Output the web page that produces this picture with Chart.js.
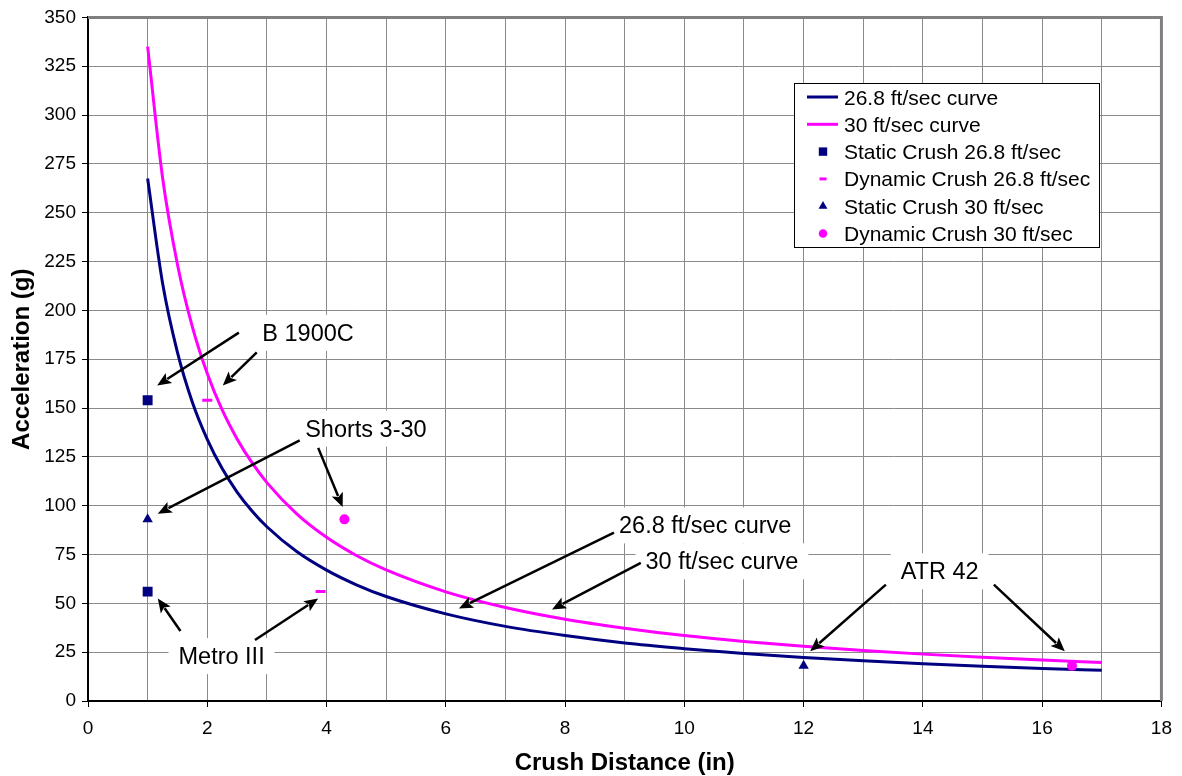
<!DOCTYPE html>
<html>
<head>
<meta charset="utf-8">
<title>Crush Distance vs Acceleration</title>
<script src="https://cdn.jsdelivr.net/npm/chart.js@4.4.0/dist/chart.umd.min.js"></script>
<style>
    html, body { margin: 0; padding: 0; background: #fff; }
    #wrap { width: 1182px; height: 776px; }
</style>
</head>
<body>
<div id="wrap"><canvas id="crushChart" width="1182" height="776"></canvas></div>
<script>
// curve values
var distance = [1, 1.25, 1.5, 1.75, 2, 2.25, 2.5, 2.75, 3, 3.5, 4, 4.5, 5, 6, 7, 8, 9, 10, 11, 12, 13, 14, 15, 16, 17];
var curve268 = [267.5, 214, 178.5, 153, 134, 119, 107, 97.3, 89.2, 76.5, 67, 59.5, 53.5, 44.6, 38.2, 33.5, 29.7, 26.8, 24.3, 22.3, 20.6, 19.1, 17.8, 16.7, 15.7];
var curve30 = [335, 268, 223.5, 191.6, 167.7, 149, 134.2, 122, 111.8, 95.8, 83.8, 74.5, 67.1, 55.9, 47.9, 41.9, 37.3, 33.5, 30.5, 28, 25.8, 24, 22.4, 21, 19.7];

// measured crush points
var staticX268 = [1, 1];
var staticY268 = [154, 56];
var dynamicX268 = [2, 3.9];
var dynamicY268 = [154, 56];
var staticX30 = [1, 12];
var staticY30 = [93, 18];
var dynamicX30 = [4.3, 16.5];
var dynamicY30 = [93, 18];

var xTicks = [0, 2, 4, 6, 8, 10, 12, 14, 16, 18];
var yTicks = [0, 25, 50, 75, 100, 125, 150, 175, 200, 225, 250, 275, 300, 325, 350];

// callout boxes, given in data units (text centre, then arrows from -> to)
var callouts = [
    { text: "B 1900C", at: [3.69, 188.5], arrows: [[2.53, 188.6, 1.16, 161.5], [2.83, 178.5, 2.26, 161.5]] },
    { text: "Shorts 3-30", at: [4.66, 139.5], arrows: [[3.55, 133.4, 1.17, 95.9], [3.86, 129.6, 4.27, 99.3]] },
    { text: "26.8 ft/sec curve", at: [10.35, 89.9], arrows: [[8.82, 86.2, 6.22, 47.4]] },
    { text: "30 ft/sec curve", at: [10.63, 71.5], arrows: [[9.27, 70.7, 7.78, 46.9]] },
    { text: "Metro III", at: [2.24, 23], arrows: [[1.55, 35.8, 1.17, 52.5], [2.80, 31.2, 3.86, 52.5]] },
    { text: "ATR 42", at: [14.28, 66.4], arrows: [[13.38, 59.6, 12.11, 25.5], [15.19, 59.6, 16.38, 25.5]] }
];

var fontFamily = "'Liberation Sans', Arial, sans-serif";
var navy = '#000080';
var magenta = '#ff00ff';

function pairs(xs, ys) {
    return xs.map(function (x, i) { return { x: x, y: ys[i] }; });
}

function drawArrow(ctx, x1, y1, x2, y2) {
    var ang = Math.atan2(y2 - y1, x2 - x1);
    var len = 14, half = 6;
    var bx = x2 - Math.cos(ang) * len, by = y2 - Math.sin(ang) * len;
    ctx.beginPath();
    ctx.moveTo(x1, y1);
    ctx.lineTo(bx + Math.cos(ang) * 2, by + Math.sin(ang) * 2);
    ctx.stroke();
    ctx.beginPath();
    ctx.moveTo(x2, y2);
    ctx.lineTo(bx - Math.sin(ang) * half, by + Math.cos(ang) * half);
    ctx.lineTo(bx + Math.cos(ang) * 3, by + Math.sin(ang) * 3);
    ctx.lineTo(bx + Math.sin(ang) * half, by - Math.cos(ang) * half);
    ctx.closePath();
    ctx.fill();
}

var plotFrame = {
    id: 'plotFrame',
    beforeDatasetsDraw: function (chart) {
        var a = chart.chartArea, ctx = chart.ctx;
        ctx.save();
        ctx.strokeStyle = '#808080';
        ctx.lineWidth = 3;
        ctx.beginPath();
        ctx.moveTo(a.left, a.top);
        ctx.lineTo(a.right, a.top);
        ctx.lineTo(a.right, a.bottom);
        ctx.stroke();
        ctx.restore();
    }
};

var calloutPlugin = {
    id: 'calloutPlugin',
    afterDatasetsDraw: function (chart) {
        var ctx = chart.ctx, xs = chart.scales.x, ys = chart.scales.y;
        var fs = 23.5;
        ctx.save();
        ctx.font = fs + 'px ' + fontFamily;
        callouts.forEach(function (c) {
            var cx = xs.getPixelForValue(c.at[0]);
            var cy = ys.getPixelForValue(c.at[1]);
            var w = ctx.measureText(c.text).width;
            ctx.fillStyle = '#fff';
            ctx.fillRect(cx - w / 2 - 10, cy - 18, w + 20, 36);
            ctx.fillStyle = '#000';
            ctx.textAlign = 'center';
            ctx.textBaseline = 'alphabetic';
            ctx.fillText(c.text, cx, cy + fs * 0.34);
        });
        ctx.strokeStyle = '#000';
        ctx.fillStyle = '#000';
        ctx.lineWidth = 2.5;
        callouts.forEach(function (c) {
            c.arrows.forEach(function (a) {
                drawArrow(ctx, xs.getPixelForValue(a[0]), ys.getPixelForValue(a[1]),
                    xs.getPixelForValue(a[2]), ys.getPixelForValue(a[3]));
            });
        });
        ctx.restore();
    }
};

var boxLegend = {
    id: 'boxLegend',
    afterDraw: function (chart) {
        var ctx = chart.ctx;
        var lx = 794.5, ly = 83.5, lw = 305, lh = 164;
        ctx.save();
        ctx.fillStyle = '#fff';
        ctx.fillRect(lx, ly, lw, lh);
        ctx.strokeStyle = '#000';
        ctx.lineWidth = 1;
        ctx.strokeRect(lx, ly, lw, lh);
        ctx.font = '21px ' + fontFamily;
        ctx.textBaseline = 'alphabetic';
        ctx.textAlign = 'left';
        chart.data.datasets.forEach(function (ds, i) {
            var cy = 97 + i * 27.3;
            ctx.strokeStyle = ds.borderColor;
            ctx.fillStyle = ds.backgroundColor || ds.borderColor;
            if (ds.showLine) {
                ctx.lineWidth = 3;
                ctx.beginPath();
                ctx.moveTo(807, cy);
                ctx.lineTo(838, cy);
                ctx.stroke();
            } else {
                ctx.lineWidth = ds.borderWidth;
                Chart.helpers.drawPoint(ctx, {
                    pointStyle: ds.pointStyle,
                    radius: ds.pointStyle === 'line' ? 3.5 : ds.pointRadius * 0.85,
                    borderWidth: ds.borderWidth,
                    rotation: 0
                }, 823, cy);
            }
            ctx.fillStyle = '#000';
            ctx.fillText(ds.label, 844, cy + 7.5);
        });
        ctx.restore();
    }
};

Chart.defaults.font.family = fontFamily;
Chart.defaults.color = '#000';

var crushChart = new Chart(document.getElementById('crushChart'), {
    type: 'scatter',
    data: {
        datasets: [
            {
                label: '26.8 ft/sec curve',
                data: pairs(distance, curve268),
                showLine: true,
                borderColor: navy,
                borderWidth: 3,
                pointRadius: 0,
                cubicInterpolationMode: 'monotone',
                order: 3
            },
            {
                label: '30 ft/sec curve',
                data: pairs(distance, curve30),
                showLine: true,
                borderColor: magenta,
                borderWidth: 3,
                pointRadius: 0,
                cubicInterpolationMode: 'monotone',
                order: 2
            },
            {
                label: 'Static Crush 26.8 ft/sec',
                data: pairs(staticX268, staticY268),
                pointStyle: 'rect',
                pointRadius: 7,
                backgroundColor: navy,
                borderColor: navy,
                borderWidth: 0,
                order: 1
            },
            {
                label: 'Dynamic Crush 26.8 ft/sec',
                data: pairs(dynamicX268, dynamicY268),
                pointStyle: 'line',
                pointRadius: 5,
                backgroundColor: magenta,
                borderColor: magenta,
                borderWidth: 3,
                order: 1
            },
            {
                label: 'Static Crush 30 ft/sec',
                data: pairs(staticX30, staticY30),
                pointStyle: 'triangle',
                pointRadius: 6,
                backgroundColor: navy,
                borderColor: navy,
                borderWidth: 0,
                order: 1
            },
            {
                label: 'Dynamic Crush 30 ft/sec',
                data: pairs(dynamicX30, dynamicY30),
                pointStyle: 'circle',
                pointRadius: 5,
                backgroundColor: magenta,
                borderColor: magenta,
                borderWidth: 0,
                order: 1
            }
        ]
    },
    options: {
        responsive: false,
        animation: false,
        layout: { padding: { top: 16, right: 18, left: 0, bottom: 0 } },
        plugins: {
            legend: { display: false },
            tooltip: { enabled: false }
        },
        scales: {
            x: {
                type: 'linear',
                min: 0,
                max: 18,
                afterFit: function (s) { s.height = 75; },
                afterBuildTicks: function (s) {
                    var t = [];
                    for (var v = s.min; v <= s.max; v++) t.push({ value: v });
                    s.ticks = t;
                },
                ticks: {
                    autoSkip: false,
                    maxRotation: 0,
                    padding: 10,
                    font: { size: 19 },
                    callback: function (v) { return xTicks.indexOf(v) >= 0 ? String(v) : ''; }
                },
                grid: {
                    color: '#8a8a8a',
                    lineWidth: 1,
                    tickLength: 6,
                    tickColor: function (c) { return c.tick && xTicks.indexOf(c.tick.value) >= 0 ? '#000' : 'rgba(0,0,0,0)'; }
                },
                border: { color: '#000', width: 2 },
                title: {
                    display: true,
                    text: 'Crush Distance (in)',
                    font: { size: 24, weight: 'bold', lineHeight: 1 },
                    padding: { top: 0, bottom: 1 }
                }
            },
            y: {
                type: 'linear',
                min: 0,
                max: 350,
                afterFit: function (s) { s.width = 88; },
                afterBuildTicks: function (s) {
                    s.ticks = yTicks.map(function (v) { return { value: v }; });
                },
                ticks: {
                    padding: 6,
                    font: { size: 19 }
                },
                grid: {
                    color: '#8a8a8a',
                    lineWidth: 1,
                    tickLength: 6,
                    tickColor: '#000'
                },
                border: { color: '#000', width: 2 },
                title: {
                    display: true,
                    text: 'Acceleration (g)',
                    font: { size: 24, weight: 'bold', lineHeight: 1 },
                    padding: { top: 10, bottom: 0 }
                }
            }
        }
    },
    plugins: [plotFrame, calloutPlugin, boxLegend]
});
</script>
</body>
</html>
